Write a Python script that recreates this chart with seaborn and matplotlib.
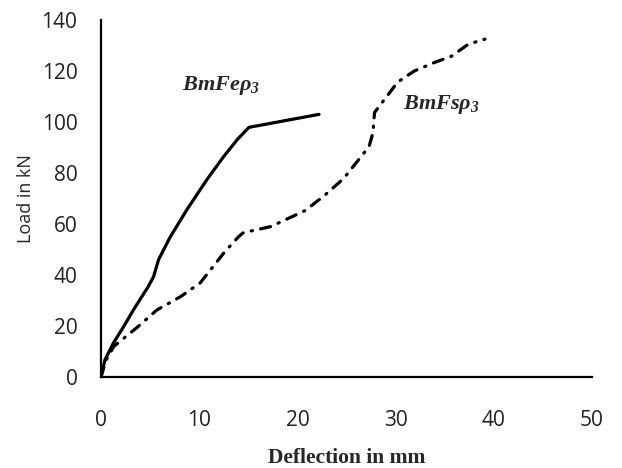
import matplotlib
matplotlib.use("Agg")
import matplotlib.pyplot as plt
import seaborn as sns
import pandas as pd

# BmFeρ3 (solid)
fe_defl = [0.0, 0.4, 1.26, 2.3, 3.3, 4.8, 5.35, 5.86, 7.06, 8.76, 10.8, 12.5, 13.9, 15.06, 16.6, 22.2]
fe_load = [0.0, 6.7, 13.3, 19.7, 26.3, 35.4, 39.3, 46.0, 55.0, 65.7, 77.5, 86.5, 93.2, 97.9, 99.0, 103.0]

# BmFsρ3 (dash-dot)
fs_defl = [0.0, 0.5, 1.3, 3.6, 5.7, 8.1, 10.1, 12.5, 14.0, 14.5, 17.3, 20.8, 22.7, 24.7, 26.5, 27.3,
           27.7, 27.85, 28.9, 30.2, 31.9, 34.0, 35.7, 37.4, 39.1]
fs_load = [0.0, 6.5, 12.0, 19.2, 26.3, 31.5, 36.9, 48.6, 55.0, 56.6, 59.0, 65.3, 71.0, 77.8, 86.5, 90.4,
           95.9, 103.7, 109.0, 115.6, 120.0, 123.4, 125.8, 130.5, 132.5]

x_ticks = [0, 10, 20, 30, 40, 50]
y_ticks = [0, 20, 40, 60, 80, 100, 120, 140]
x_label = "Deflection in mm"
y_label = "Load in kN"
series_labels = [r"$BmFe\rho_3$", r"$BmFs\rho_3$"]

sns.set_theme(style="white")
plt.rcParams['font.family'] = ['Open Sans', 'DejaVu Sans']
plt.rcParams['mathtext.fontset'] = 'custom'
plt.rcParams['mathtext.rm'] = 'Liberation Serif:bold:italic'
plt.rcParams['mathtext.it'] = 'Liberation Serif:bold:italic'
plt.rcParams['mathtext.bf'] = 'Liberation Serif:bold:italic'

fig = plt.figure(figsize=(6.22, 4.68), dpi=100)
ax = fig.add_axes([101/622, 1 - 377/468, (592 - 101)/622, (377 - 20)/468])

df_fe = pd.DataFrame({"x": fe_defl, "y": fe_load})
df_fs = pd.DataFrame({"x": fs_defl, "y": fs_load})

sns.lineplot(data=df_fe, x="x", y="y", ax=ax, color="black", linewidth=2.3,
             sort=False, estimator=None)
sns.lineplot(data=df_fs, x="x", y="y", ax=ax, color="black", linewidth=2.3,
             sort=False, estimator=None)
ax.lines[1].set_linestyle((0, (3.2, 2.6, 0.4, 2.6)))
ax.lines[1].set_dash_capstyle("round")
ax.lines[0].set_solid_capstyle("round")

ax.set_xlim(0, 50)
ax.set_ylim(0, 140)
ax.set_xticks(x_ticks)
ax.set_yticks(y_ticks)
ax.tick_params(axis="both", length=0, labelsize=15, colors="#222222")
ax.tick_params(axis="y", pad=17)
ax.tick_params(axis="x", pad=24)

for s in ["top", "right"]:
    ax.spines[s].set_visible(False)
for s in ["left", "bottom"]:
    ax.spines[s].set_color("black")
    ax.spines[s].set_linewidth(1.6)

ax.set_ylabel(y_label, fontsize=13)
ax.yaxis.set_label_coords(-0.135, 0.5)
ax.set_xlabel(x_label, fontsize=15.5, fontweight="bold",
              family=["Liberation Serif", "DejaVu Serif"])
ax.xaxis.set_label_coords(0.5, -0.198)

ax.text(12.2, 114.5, series_labels[0], ha="center", va="center", fontsize=16)
ax.text(34.7, 107, series_labels[1], ha="center", va="center", fontsize=16)

fig.savefig("out.png", dpi=100)
